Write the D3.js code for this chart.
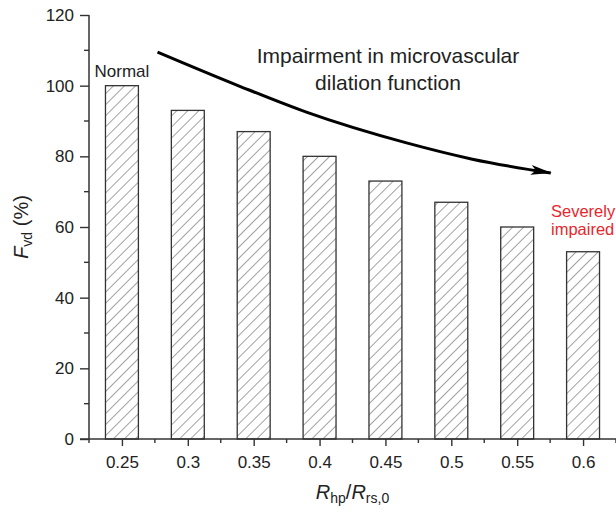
<!DOCTYPE html>
<html>
<head>
<meta charset="utf-8">
<script src="https://cdn.jsdelivr.net/npm/d3@7/dist/d3.min.js"></script>
<style>
  html, body { margin: 0; padding: 0; background: #fff; }
  svg { display: block; font-family: "Liberation Sans", Arial, Helvetica, sans-serif; }
</style>
</head>
<body>
<svg id="chart" width="616" height="515"></svg>
<script>
// Ratio of hyperpolarisation resistance to resting resistance
const ratios = [0.25, 0.3, 0.35, 0.4, 0.45, 0.5, 0.55, 0.6];
const ratioLabels = ["0.25", "0.3", "0.35", "0.4", "0.45", "0.5", "0.55", "0.6"];
// Vasodilation function, % of normal
const fvd = [100, 93, 87, 80, 73, 67, 60, 53];
const yTicks = [0, 20, 40, 60, 80, 100, 120];
const yMinorTicks = [10, 30, 50, 70, 90, 110];
const xMinorTicks = [0.225, 0.275, 0.325, 0.375, 0.425, 0.475, 0.525, 0.575, 0.625];
// Trend arrow path, in data units (ratio, %)
const trendPath = [[0.277, 109.5], [0.339, 99.9], [0.390, 92.5], [0.466, 83.8], [0.516, 79.2], [0.5755, 75.3]];

const svg = d3.select("#chart");
const ink = "#222";

const x = d3.scaleLinear().domain([0.225, 0.625]).range([89, 616]);
const y = d3.scaleLinear().domain([0, 120]).range([439, 15]);
const barHalf = 0.0125;

// hatch pattern "/"
const defs = svg.append("defs");
defs.append("pattern")
  .attr("id", "hatch")
  .attr("patternUnits", "userSpaceOnUse")
  .attr("width", 7.8).attr("height", 7.8)
  .attr("patternTransform", "rotate(45)")
  .append("line")
  .attr("x1", 0).attr("y1", -1).attr("x2", 0).attr("y2", 9)
  .attr("stroke", "#555").attr("stroke-width", 1.1);

defs.append("marker")
  .attr("id", "head")
  .attr("markerUnits", "userSpaceOnUse")
  .attr("viewBox", "0 -6 22 12")
  .attr("markerWidth", 22).attr("markerHeight", 12)
  .attr("refX", 20).attr("refY", 0)
  .attr("orient", "auto")
  .append("path")
  .attr("d", "M0,-5 L21,0 L0,5 L5,0 Z")
  .attr("fill", "#000");

// bars
svg.append("g").selectAll("rect")
  .data(ratios)
  .join("rect")
  .attr("x", d => x(d - barHalf))
  .attr("y", (d, i) => y(fvd[i]))
  .attr("width", d => x(d + barHalf) - x(d - barHalf))
  .attr("height", (d, i) => y(0) - y(fvd[i]))
  .attr("fill", "url(#hatch)")
  .attr("stroke", "#333")
  .attr("stroke-width", 1.3);

// y axis
const yAxis = svg.append("g").attr("transform", `translate(${x(0.225)},0)`)
  .call(d3.axisLeft(y).tickValues(yTicks).tickSize(9).tickPadding(6).tickFormat(d3.format("d")));
yAxis.append("g").selectAll("line").data(yMinorTicks).join("line")
  .attr("x1", -5).attr("x2", 0).attr("y1", d => y(d)).attr("y2", d => y(d));

// x axis
const xAxis = svg.append("g").attr("transform", `translate(0,${y(0)})`)
  .call(d3.axisBottom(x).tickValues(ratios).tickSize(7).tickPadding(10)
    .tickFormat((d, i) => ratioLabels[i]));
xAxis.append("g").selectAll("line").data(xMinorTicks).join("line")
  .attr("x1", d => x(d)).attr("x2", d => x(d)).attr("y1", 0).attr("y2", 4);

[yAxis, xAxis].forEach(g => {
  g.select(".domain").attr("stroke", "#333").attr("stroke-width", 1.5);
  g.selectAll("line").attr("stroke", "#333").attr("stroke-width", 1.4);
  g.selectAll("text").attr("fill", ink).attr("font-size", 17)
    .attr("font-family", "'Liberation Sans', Arial, sans-serif");
});
yAxis.select(".domain").attr("d", `M0,${y(120)}V${y(0)}`);
xAxis.select(".domain").attr("d", `M${x(0.225) - 9},0H616`);

// axis titles
const xt = svg.append("text")
  .attr("x", (x(0.25) + x(0.6)) / 2).attr("y", 499)
  .attr("text-anchor", "middle").attr("fill", ink).attr("font-size", 20);
xt.append("tspan").attr("font-style", "italic").text("R");
xt.append("tspan").attr("font-size", 14).attr("dy", 4).text("hp");
xt.append("tspan").attr("dy", -4).text("/");
xt.append("tspan").attr("font-style", "italic").text("R");
xt.append("tspan").attr("font-size", 14).attr("dy", 4).text("rs,0");

const yt = svg.append("text")
  .attr("transform", `translate(28,${(y(0) + y(120)) / 2}) rotate(-90)`)
  .attr("text-anchor", "middle").attr("fill", ink).attr("font-size", 20);
yt.append("tspan").attr("font-style", "italic").text("F");
yt.append("tspan").attr("font-size", 14).attr("dy", 4).text("vd");
yt.append("tspan").attr("dy", -4).text(" (%)");

// annotations
svg.append("text")
  .attr("x", x(0.25)).attr("y", y(fvd[0]) - 9)
  .attr("text-anchor", "middle").attr("fill", ink).attr("font-size", 17)
  .text("Normal");

const last = ratios.length - 1;
const sevLines = ["Severely", "impaired"];
svg.append("g").selectAll("text")
  .data(sevLines)
  .join("text")
  .attr("x", 551)
  .attr("y", (d, i) => y(fvd[last]) - 35 + i * 18)
  .attr("fill", "#e8262c").attr("font-size", 16.5)
  .text(d => d);

const note = svg.append("text")
  .attr("text-anchor", "middle").attr("fill", ink).attr("font-size", 21);
note.append("tspan").attr("x", 388).attr("y", 63).text("Impairment in microvascular");
note.append("tspan").attr("x", 388).attr("y", 90).text("dilation function");

svg.append("path")
  .datum(trendPath)
  .attr("d", d3.line().x(d => x(d[0])).y(d => y(d[1])).curve(d3.curveMonotoneX))
  .attr("fill", "none")
  .attr("stroke", "#000")
  .attr("stroke-width", 3)
  .attr("marker-end", "url(#head)");
</script>
</body>
</html>
